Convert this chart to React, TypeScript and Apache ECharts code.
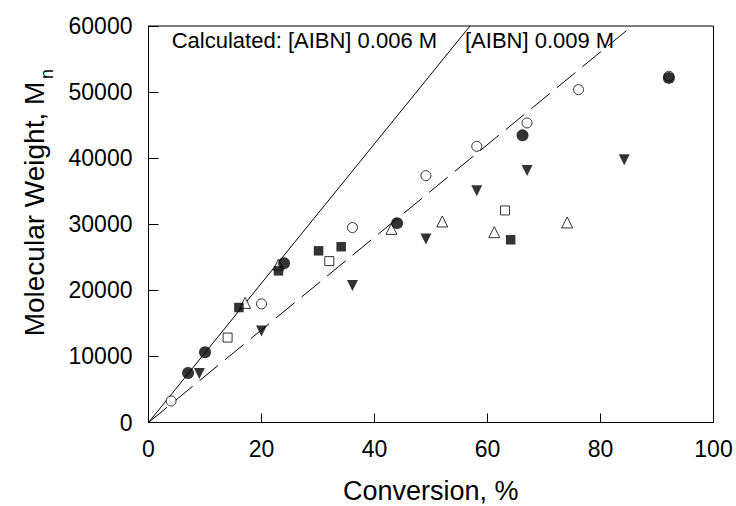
import React, { useEffect, useRef } from "react";
import * as echarts from "echarts";

const xTicks = [0, 20, 40, 60, 80, 100];
const yTicks = [0, 10000, 20000, 30000, 40000, 50000, 60000];

const filledCircle = [[7, 7500], [10, 10630], [24, 24100], [44, 30170], [66.2, 43450], [92.1, 52150]];
const openCircle = [[4, 3260], [20, 17950], [36.1, 29500], [49.1, 37350], [58.1, 41790], [67, 45330], [76.1, 50370], [92.1, 52400]];
const filledTriangleDown = [[9, 7400], [20, 13860], [36.1, 20730], [49.1, 27750], [58.1, 35070], [67, 38150], [84.2, 39770]];
const openTriangleUp = [[17.1, 18100], [23, 23900], [43, 29300], [52, 30420], [61.2, 28800], [74.1, 30270]];
const filledSquare = [[16, 17400], [23, 22950], [30.1, 25980], [34.1, 26600], [64.1, 27650]];
const openSquare = [[14, 12850], [32, 24420], [63.1, 32090]];

const calc006 = [[0, 0], [56.9, 60000]];
const calc009 = [[0, 0], [85.6, 60000]];

const FONT = 'Arial, "Liberation Sans", sans-serif';

export default function App() {
  const ref = useRef<HTMLDivElement>(null);
  useEffect(() => {
    if (!ref.current) return;
    const chart = echarts.init(ref.current, undefined, { renderer: "svg" });
    const scatter = (name: string, data: number[][], symbol: string, size: number, filled: boolean, rotate = 0, z = 3) => ({
      name,
      type: "scatter",
      data,
      symbol,
      symbolSize: size,
      symbolRotate: rotate,
      z,
      itemStyle: filled
        ? { color: "#000", borderColor: "#000", borderWidth: 0 }
        : { color: "#fff", borderColor: "#000", borderWidth: 1 },
      emphasis: { disabled: true },
    });
    chart.setOption({
      animation: false,
      backgroundColor: "#fff",
      grid: { left: 148.5, right: 22.5, top: 26, bottom: 83.5, show: true, borderColor: "#000", borderWidth: 1 },
      xAxis: {
        type: "value",
        min: xTicks[0],
        max: xTicks[xTicks.length - 1],
        interval: 20,
        axisLine: { show: true, lineStyle: { color: "#000", width: 1 } },
        axisTick: { show: true, inside: true, length: 9, lineStyle: { color: "#000" } },
        axisLabel: { color: "#000", fontSize: 23, fontFamily: FONT, margin: 15, formatter: (v: number) => String(v) },
        splitLine: { show: false },
      },
      yAxis: {
        type: "value",
        min: yTicks[0],
        max: yTicks[yTicks.length - 1],
        interval: 10000,
        axisLine: { show: true, lineStyle: { color: "#000", width: 1 } },
        axisTick: { show: true, inside: true, length: 10, lineStyle: { color: "#000" } },
        axisLabel: { color: "#000", fontSize: 23, fontFamily: FONT, margin: 16, formatter: (v: number) => String(v) },
        splitLine: { show: false },
      },
      series: [
        {
          type: "line",
          data: calc006,
          symbol: "none",
          lineStyle: { color: "#000", width: 1 },
          z: 2,
        },
        {
          type: "line",
          data: calc009,
          symbol: "none",
          lineStyle: { color: "#000", width: 1, type: [24, 9] },
          z: 2,
        },
        scatter("openSquare", openSquare, "rect", 9, false),
        scatter("openTriangleUp", openTriangleUp, "triangle", 11, false),
        scatter("filledSquare", filledSquare, "rect", 9.5, true),
        scatter("filledTriangleDown", filledTriangleDown, "triangle", 11, true, 180),
        scatter("openCircle", openCircle, "circle", 10, false),
        scatter("filledCircle", filledCircle, "circle", 12, true),
      ],
      graphic: [
        {
          type: "text",
          x: 171.7,
          y: 40,
          style: { text: "Calculated: [AIBN] 0.006 M", fontSize: 22, fontFamily: FONT, fill: "#000", textAlign: "left", textVerticalAlign: "middle" },
        },
        {
          type: "text",
          x: 465,
          y: 40,
          style: { text: "[AIBN] 0.009 M", fontSize: 22, fontFamily: FONT, fill: "#000", textAlign: "left", textVerticalAlign: "middle" },
        },
        {
          type: "text",
          x: 430.7,
          y: 491,
          style: { text: "Conversion, %", fontSize: 27, fontFamily: FONT, fill: "#000", textAlign: "center", textVerticalAlign: "middle" },
        },
        {
          type: "text",
          x: 34,
          y: 209,
          rotation: Math.PI / 2,
          style: { text: "Molecular Weight, M", fontSize: 28, fontFamily: FONT, fill: "#000", textAlign: "center", textVerticalAlign: "middle" },
        },
        {
          type: "text",
          x: 47,
          y: 74,
          rotation: Math.PI / 2,
          style: { text: "n", fontSize: 18, fontFamily: FONT, fill: "#000", textAlign: "center", textVerticalAlign: "middle" },
        },
      ],
    });
    return () => chart.dispose();
  }, []);
  return <div ref={ref} style={{ position: "fixed", left: 0, top: 0, width: 736, height: 506, background: "#fff" }} />;
}
